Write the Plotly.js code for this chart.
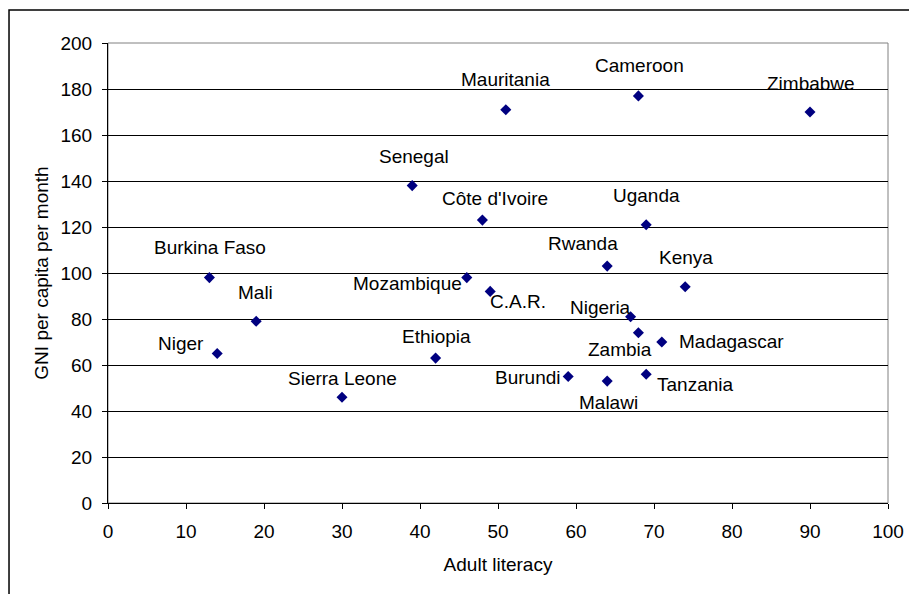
<!DOCTYPE html>
<html>
<head>
<meta charset="utf-8">
<script src="https://cdn.plot.ly/plotly-3.0.1.min.js"></script>
<style>
  html, body { margin: 0; padding: 0; background: #fff; overflow: hidden; }
  #chart { width: 909px; height: 594px; }
</style>
</head>
<body>
<div id="chart"></div>
<script>
// Adult literacy (%) against GNI per capita per month, by country
const countries = ["Burkina Faso", "Mali", "Niger", "Sierra Leone", "Ethiopia",
  "Mozambique", "C.A.R.", "Senegal", "Côte d'Ivoire", "Mauritania", "Cameroon",
  "Zimbabwe", "Uganda", "Rwanda", "Kenya", "Nigeria", "Zambia", "Madagascar",
  "Burundi", "Malawi", "Tanzania"];
const literacy = [13, 19, 14, 30, 42, 46, 49, 39, 48, 51, 68, 90, 69, 64, 74, 67, 68, 71, 59, 64, 69];
const gni = [98, 79, 65, 46, 63, 98, 92, 138, 123, 171, 177, 170, 121, 103, 94, 81, 74, 70, 55, 53, 56];

const xTicks = [0, 10, 20, 30, 40, 50, 60, 70, 80, 90, 100];
const yTicks = [0, 20, 40, 60, 80, 100, 120, 140, 160, 180, 200];

// Label placement around each marker, in screen pixels [right, down]
const labelShift = {
  "Burkina Faso": [1, -30], "Mali": [-1, -29], "Niger": [-36, -10],
  "Sierra Leone": [0, -19], "Ethiopia": [1, -22], "Mozambique": [-59, 6],
  "C.A.R.": [28, 10], "Senegal": [2, -29], "Côte d'Ivoire": [13, -22],
  "Mauritania": [0, -30], "Cameroon": [1, -30], "Zimbabwe": [1, -29],
  "Uganda": [0, -29], "Rwanda": [-24, -23], "Kenya": [1, -29],
  "Nigeria": [-30, -9], "Zambia": [-18, 17], "Madagascar": [70, -1],
  "Burundi": [-40, 1], "Malawi": [1, 21], "Tanzania": [49, 10]
};

const FONT = "Arial, 'Liberation Sans', sans-serif";
const TEXT_SIZE = 19;

const annotations = countries.map((name, i) => ({
  x: literacy[i], y: gni[i], xref: "x", yref: "y",
  text: name, showarrow: false,
  xshift: labelShift[name][0], yshift: -labelShift[name][1],
  font: { family: FONT, size: TEXT_SIZE, color: "#000" }
}));

const trace = {
  type: "scatter", mode: "markers",
  x: literacy, y: gni, text: countries,
  marker: { symbol: "diamond", size: 8.5, color: "#000080", line: { width: 0 } },
  cliponaxis: false, hoverinfo: "text+x+y"
};

const axisCommon = {
  showline: true, linecolor: "#000", linewidth: 1,
  ticks: "outside", ticklen: 5, tickcolor: "#000", tickwidth: 1,
  tickfont: { family: FONT, size: TEXT_SIZE, color: "#000" },
  zeroline: false, fixedrange: true, tickmode: "array"
};

const layout = {
  width: 909, height: 594,
  margin: { l: 108, r: 21, t: 43, b: 91 },
  paper_bgcolor: "#fff", plot_bgcolor: "#fff",
  showlegend: false,
  font: { family: FONT, size: TEXT_SIZE, color: "#000" },
  xaxis: Object.assign({}, axisCommon, {
    range: [0, 100], tickvals: xTicks, ticktext: xTicks.map(String),
    showgrid: false, ticklabelstandoff: 6,
    title: { text: "Adult literacy", font: { family: FONT, size: TEXT_SIZE, color: "#000" }, standoff: 16 }
  }),
  yaxis: Object.assign({}, axisCommon, {
    range: [0, 200], tickvals: yTicks, ticktext: yTicks.map(String),
    showgrid: true, gridcolor: "#000", gridwidth: 1, ticklabelstandoff: 6,
    title: { text: "GNI per capita per month", font: { family: FONT, size: TEXT_SIZE, color: "#000" }, standoff: 6 }
  }),
  annotations: annotations,
  shapes: [
    // plot area frame (grey, behind the black axis lines)
    { type: "rect", xref: "paper", yref: "paper", x0: 0, x1: 1, y0: 0, y1: 1,
      line: { color: "#808080", width: 1 }, layer: "below" },
    // chart area border
    { type: "rect", xref: "paper", yref: "paper",
      x0: -0.1269, x1: 1.0320, y0: -0.2200, y1: 1.0717,
      line: { color: "#000", width: 1.5 }, layer: "above" }
  ]
};

Plotly.newPlot("chart", [trace], layout, { displayModeBar: false, staticPlot: true });
</script>
</body>
</html>
